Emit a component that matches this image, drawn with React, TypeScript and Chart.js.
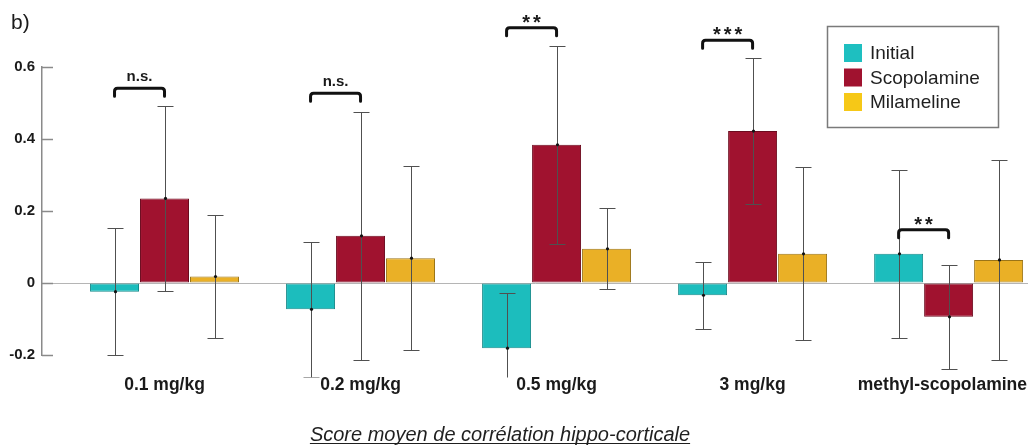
import { useEffect, useRef } from 'react';
import { Chart, registerables } from 'chart.js';

Chart.register(...registerables);

// ---- data ----
const categories = ['0.1 mg/kg', '0.2 mg/kg', '0.5 mg/kg', '3 mg/kg', 'methyl-scopolamine'];
const seriesNames = ['Initial', 'Scopolamine', 'Milameline'];
const initialValues = [-0.024, -0.073, -0.181, -0.034, 0.081];
const initialErrors = [0.177, 0.187, 0.154, 0.093, 0.233];
const scopolamineValues = [0.235, 0.131, 0.384, 0.422, -0.094];
const scopolamineErrors = [0.257, 0.344, 0.275, 0.203, 0.145];
const milamelineValues = [0.018, 0.069, 0.095, 0.081, 0.064];
const milamelineErrors = [0.170, 0.256, 0.112, 0.240, 0.278];
const sigLabels = ['n.s.', 'n.s.', '**', '***', '**'];
const sigLevels = [0.541, 0.527, 0.709, 0.674, 0.148];
const yTicks = [-0.2, 0, 0.2, 0.4, 0.6];
const yTickLabels = ['-0.2', '0', '0.2', '0.4', '0.6'];
const panelLabel = 'b)';
const axisTitle = 'Score moyen de corrélation hippo-corticale';

// ---- styles ----
const FONT = '"Liberation Sans", Arial, Helvetica, sans-serif';
const barColors = ['#1CBDBD', '#A0122F', '#EAB026'];
const barBorders = ['#168a8a', '#6c0b1f', '#9a7417'];
const legendColors = ['#1EBFC0', '#A0122F', '#F6C817'];

export default function App() {
  const ref = useRef<HTMLCanvasElement>(null);

  useEffect(() => {
    const canvas = ref.current!;
    const values = [initialValues, scopolamineValues, milamelineValues];
    const errors = [initialErrors, scopolamineErrors, milamelineErrors];

    // keep x tick labels inside the canvas
    const clampLabels = {
      id: 'clampLabels',
      beforeDraw(chart: any) {
        const x = chart.scales.x;
        const items = x.getLabelItems();
        const { ctx } = chart;
        ctx.save();
        items.forEach((it: any) => {
          ctx.font = it.font.string;
          const w = ctx.measureText(String(it.label)).width;
          const t = it.options.translation;
          const maxX = chart.width - 3 - w / 2;
          if (t[0] > maxX) t[0] = maxX;
        });
        ctx.restore();
      },
    };

    const errorBars = {
      id: 'errorBars',
      afterDatasetsDraw(chart: any) {
        const { ctx } = chart;
        const y = chart.scales.y;
        ctx.save();
        ctx.beginPath();
        ctx.rect(0, 0, chart.width, 377.5);
        ctx.clip();
        chart.data.datasets.forEach((_: any, i: number) => {
          const meta = chart.getDatasetMeta(i);
          meta.data.forEach((el: any, j: number) => {
            const v = values[i][j];
            const e = errors[i][j];
            const x = Math.round(el.x) + 0.5;
            const yT = Math.round(y.getPixelForValue(v + e)) + 0.5;
            const yB = Math.round(y.getPixelForValue(v - e)) + 0.5;
            const yM = y.getPixelForValue(v);
            ctx.strokeStyle = '#505050';
            ctx.lineWidth = 1;
            ctx.beginPath();
            ctx.moveTo(x, yT);
            ctx.lineTo(x, yB);
            ctx.moveTo(x - 8, yT);
            ctx.lineTo(x + 8, yT);
            ctx.moveTo(x - 8, yB);
            ctx.lineTo(x + 8, yB);
            ctx.stroke();
            ctx.fillStyle = '#111';
            ctx.beginPath();
            ctx.arc(x, yM, 1.6, 0, Math.PI * 2);
            ctx.fill();
          });
        });
        ctx.restore();

        // significance brackets
        const m0 = chart.getDatasetMeta(0);
        const m1 = chart.getDatasetMeta(1);
        ctx.save();
        sigLabels.forEach((label, j) => {
          const x1 = m0.data[j].x;
          const x2 = m1.data[j].x;
          const by = y.getPixelForValue(sigLevels[j]);
          ctx.strokeStyle = '#111';
          ctx.lineWidth = 3;
          ctx.lineJoin = 'round';
          ctx.lineCap = 'round';
          ctx.beginPath();
          ctx.moveTo(x1, by + 8);
          ctx.lineTo(x1, by + 3);
          ctx.quadraticCurveTo(x1, by, x1 + 3, by);
          ctx.lineTo(x2 - 3, by);
          ctx.quadraticCurveTo(x2, by, x2, by + 3);
          ctx.lineTo(x2, by + 8);
          ctx.stroke();
          const stars = label.indexOf('*') >= 0;
          ctx.font = stars ? `bold 20px ${FONT}` : `bold 15px ${FONT}`;
          (ctx as any).letterSpacing = stars ? '3px' : '0px';
          ctx.fillStyle = '#1a1a1a';
          ctx.textAlign = 'center';
          ctx.textBaseline = 'alphabetic';
          const m = ctx.measureText(label);
          const cy = by - (stars ? 9 : 11);
          const off = (m.actualBoundingBoxAscent - m.actualBoundingBoxDescent) / 2;
          const cx = (x1 + x2) / 2 + (stars ? 1.5 : 0);
          ctx.fillText(label, cx, cy + off);
        });
        (ctx as any).letterSpacing = '0px';
        ctx.restore();
      },
    };

    const decorations = {
      id: 'decorations',
      afterDraw(chart: any) {
        const { ctx, chartArea } = chart;
        const y = chart.scales.y;
        ctx.save();
        // inward y tick marks
        ctx.strokeStyle = '#8a8a8a';
        ctx.lineWidth = 1.5;
        yTicks.forEach((v) => {
          const py = Math.round(y.getPixelForValue(v)) + 0.5;
          ctx.beginPath();
          ctx.moveTo(chartArea.left, py);
          ctx.lineTo(chartArea.left + 11, py);
          ctx.stroke();
        });

        // panel label
        ctx.fillStyle = '#1a1a1a';
        ctx.font = `21px ${FONT}`;
        ctx.textAlign = 'left';
        ctx.textBaseline = 'alphabetic';
        ctx.fillText(panelLabel, 11, 29);

        // legend
        ctx.strokeStyle = '#7a7a7a';
        ctx.lineWidth = 1.5;
        ctx.strokeRect(827.5, 26.5, 171, 101);
        ctx.font = `19px ${FONT}`;
        ctx.textBaseline = 'middle';
        seriesNames.forEach((name, i) => {
          const cy = 53 + i * 24.5;
          ctx.fillStyle = legendColors[i];
          ctx.fillRect(844, cy - 9, 18, 18);
          ctx.fillStyle = '#1f1f1f';
          ctx.fillText(name, 870, cy + 1);
        });

        // bottom axis title
        ctx.font = `italic 20px ${FONT}`;
        ctx.textAlign = 'center';
        ctx.textBaseline = 'alphabetic';
        ctx.fillStyle = '#1f1f1f';
        const w = ctx.measureText(axisTitle).width;
        ctx.fillText(axisTitle, 500, 441);
        ctx.strokeStyle = '#1f1f1f';
        ctx.lineWidth = 1;
        ctx.beginPath();
        ctx.moveTo(500 - w / 2, 443.5);
        ctx.lineTo(500 + w / 2, 443.5);
        ctx.stroke();
        ctx.restore();
      },
    };

    const mk = (i: number) => ({
      label: seriesNames[i],
      data: categories.map((_, j) => ({ x: j, y: values[i][j] })),
      backgroundColor: barColors[i],
      borderColor: barBorders[i],
      borderWidth: 1,
      borderSkipped: false,
      categoryPercentage: 0.765,
      barPercentage: 0.98,
    });

    const chart = new Chart(canvas, {
      type: 'bar',
      data: { datasets: [mk(0), mk(1), mk(2)] as any },
      options: {
        animation: false,
        responsive: false,
        events: [],
        layout: { padding: { top: 67, right: 2, bottom: 0, left: 0 } },
        plugins: {
          legend: { display: false },
          tooltip: { enabled: false },
          title: { display: false },
        },
        scales: {
          x: {
            type: 'linear',
            offset: false,
            bounds: 'data',
            min: -0.625,
            max: 4.405,
            grid: { display: false, drawTicks: false, offset: false },
            border: { display: false },
            afterBuildTicks: (axis: any) => {
              axis.ticks = categories.map((_, i) => ({ value: i }));
            },
            afterDataLimits: (axis: any) => {
              axis.min = -0.625;
              axis.max = 4.405;
            },
            afterFit: (axis: any) => {
              axis.height = 91;
              axis.paddingLeft = 0;
              axis.paddingRight = 0;
            },
            ticks: {
              autoSkip: false,
              maxRotation: 0,
              minRotation: 0,
              padding: 20,
              color: '#1a1a1a',
              font: { family: FONT, size: 17.5, weight: 'bold' },
              callback: (v: any) => categories[Math.round(Number(v))] ?? '',
            },
          },
          y: {
            type: 'linear',
            min: -0.2,
            max: 0.6,
            afterBuildTicks: (axis: any) => {
              axis.ticks = yTicks.map((v) => ({ value: v }));
            },
            afterFit: (axis: any) => {
              axis.width = 42;
              axis.paddingTop = 0;
              axis.paddingBottom = 0;
            },
            grid: {
              drawTicks: false,
              lineWidth: 1,
              color: (c: any) => (c.tick && c.tick.value === 0 ? '#b5b5b5' : 'rgba(0,0,0,0)'),
            },
            border: { display: true, color: '#8a8a8a', width: 1.5 },
            ticks: {
              padding: 7,
              color: '#1a1a1a',
              font: { family: FONT, size: 15, weight: 'bold' },
              callback: (v: any) => {
                const k = yTicks.findIndex((t) => Math.abs(t - Number(v)) < 1e-9);
                return k >= 0 ? yTickLabels[k] : '';
              },
            },
          },
        },
      } as any,
      plugins: [clampLabels, errorBars, decorations],
    });

    return () => chart.destroy();
  }, []);

  return (
    <div style={{ position: 'absolute', left: 0, top: 0, width: 1030, height: 446, background: '#ffffff' }}>
      <canvas ref={ref} width={1030} height={446} style={{ display: 'block' }} />
    </div>
  );
}
